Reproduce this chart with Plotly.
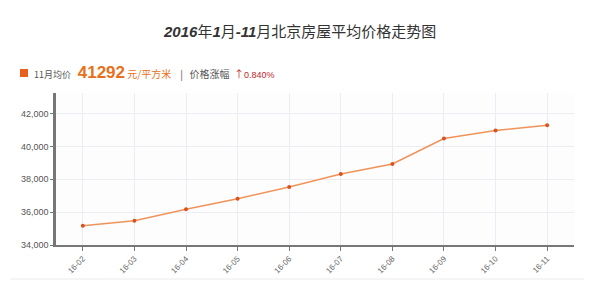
import plotly.graph_objects as go

months = ["16-02", "16-03", "16-04", "16-05", "16-06", "16-07", "16-08", "16-09", "16-10", "16-11"]
prices = [35170, 35470, 36180, 36810, 37530, 38320, 38930, 40480, 40970, 41292]
ytick_vals = [34000, 36000, 38000, 40000, 42000]
ytick_text = ["34,000", "36,000", "38,000", "40,000", "42,000"]

fig = go.Figure()
fig.add_trace(go.Scatter(
    x=list(range(len(months))), y=prices, mode="lines+markers",
    line=dict(color="#f0935a", width=1.5),
    marker=dict(color="#d9531e", size=4),
    hoverinfo="skip", showlegend=False,
))

fig.update_layout(
    width=594, height=298,
    margin=dict(l=56, r=20, t=93, b=53),
    paper_bgcolor="white", plot_bgcolor="#fdfdfd",
    font=dict(family="Noto Sans CJK SC, sans-serif", color="#555"),
)
fig.update_xaxes(
    range=[-0.52, 9.52], tickvals=list(range(len(months))), ticktext=months,
    tickangle=-45, tickfont=dict(size=8, color="#666", family="Liberation Sans"),
    showgrid=True, gridcolor="#ececf2", gridwidth=1,
    showline=True, linecolor="#777", linewidth=2,
    ticks="outside", ticklen=4, tickcolor="#777", zeroline=False,
)
fig.update_yaxes(
    range=[34000, 43250], tickvals=ytick_vals, ticktext=ytick_text,
    tickfont=dict(size=9, color="#555", family="Liberation Sans"),
    showgrid=True, gridcolor="#ececf2", gridwidth=1,
    showline=True, linecolor="#777", linewidth=2.5,
    ticks="outside", ticklen=3, tickcolor="#777", zeroline=False,
)

# Title
num = "<span style='font-family:Liberation Sans'><b><i>{}</i></b></span>"
fig.add_annotation(
    xref="paper", yref="paper", x=0.47, y=1.0, yshift=63, xanchor="center", yanchor="middle",
    text=num.format("2016") + "年" + num.format("1") + "月" + num.format("-11") + "月北京房屋平均价格走势图",
    showarrow=False, font=dict(size=15, color="#333", family="Noto Sans CJK SC"),
)

# Subheader
fig.add_shape(type="rect", xsizemode="pixel", ysizemode="pixel", xref="paper", yref="paper",
              xanchor=0, yanchor=1.0, x0=-36, x1=-28, y0=16, y1=24,
              fillcolor="#e8601c", line=dict(width=0))
fig.add_annotation(
    xref="paper", yref="paper", x=0, xshift=-24, y=1.0, yshift=21, xanchor="left", yanchor="middle",
    text=("<span style='font-size:9px;color:#555'>11月均价</span>"
          "<span style='font-size:10px'>   </span>"
          "<span style='font-size:17px;color:#e8701c;font-family:Liberation Sans'><b>41292</b></span>"
          "<span style='font-size:10px;color:#e8701c'> 元/平方米</span>"
          "<span style='font-size:10px;color:#555'>    |   价格涨幅  </span>"
          "<span style='font-size:10px;color:#c0282d'>↑</span>"
          "<span style='font-size:9px;color:#c0282d;font-family:Liberation Sans'>0.840%</span>"),
    showarrow=False, font=dict(family="Noto Sans CJK SC"),
)

# Bottom separator line
fig.add_shape(type="line", xref="paper", yref="paper", ysizemode="pixel", yanchor=0,
              x0=-0.088, x1=1.02, y0=-34, y1=-34, line=dict(color="#ebebeb", width=1))

fig.write_html("out.html")
